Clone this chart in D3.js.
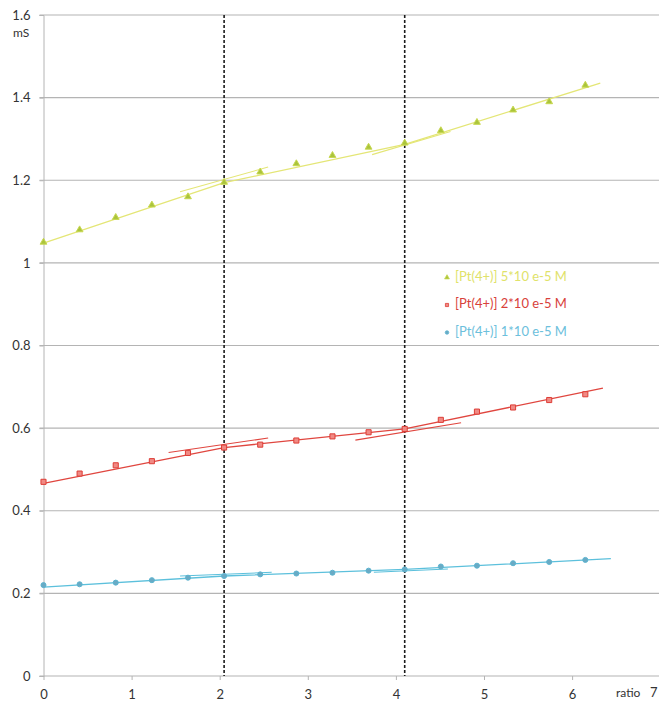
<!DOCTYPE html>
<html>
<head>
<meta charset="utf-8">
<script src="https://cdn.jsdelivr.net/npm/d3@7"></script>
<style>
  body { margin: 0; background: #fff; }
  text { font-family: Lato, "Open Sans", sans-serif; }
</style>
</head>
<body>
<div id="container"></div>
<script>
/* DATA */
const ratio = [0, 0.41, 0.82, 1.23, 1.64, 2.05, 2.46, 2.87, 3.28, 3.69, 4.1, 4.51, 4.92, 5.33, 5.74, 6.15];
const pt5 = [1.05, 1.08, 1.11, 1.14, 1.16, 1.195, 1.22, 1.24, 1.26, 1.28, 1.29, 1.32, 1.34, 1.37, 1.39, 1.43];
const pt2 = [0.47, 0.49, 0.51, 0.52, 0.54, 0.553, 0.56, 0.57, 0.58, 0.59, 0.598, 0.62, 0.64, 0.65, 0.668, 0.682];
const pt1 = [0.22, 0.222, 0.226, 0.232, 0.238, 0.242, 0.246, 0.248, 0.25, 0.255, 0.258, 0.265, 0.267, 0.273, 0.276, 0.281];
const yTicks = [0, 0.2, 0.4, 0.6, 0.8, 1, 1.2, 1.4, 1.6];
const xTicks = [0, 1, 2, 3, 4, 5, 6];
const breaks = [2.05, 4.1];   // dashed vertical lines
// piecewise trend lines: [x, y] vertices
const fit5 = [[0, 1.048], [2.05, 1.194], [4.1, 1.287], [6.32, 1.435]];
const fit2 = [[0, 0.466], [2.05, 0.553], [4.1, 0.598], [6.35, 0.697]];
const fit1 = [[0, 0.215], [2.05, 0.242], [4.1, 0.258], [6.44, 0.284]];
// short overlapping fit segments near the breaks: [x0, y0, x1, y1]
const seg5 = [[1.55, 1.172, 2.55, 1.232], [3.73, 1.262, 4.62, 1.318]];
const seg2 = [[1.42, 0.541, 2.55, 0.576], [3.54, 0.571, 4.74, 0.613]];
const seg1 = [[1.55, 0.242, 2.59, 0.251], [3.75, 0.251, 4.59, 0.259]];
const series = [
  {name: "[Pt(4+)] 5*10 e-5 M", values: pt5, fit: fit5, segs: seg5, line: "#e4e676", fill: "#aac43c", stroke: "#c8d850", text: "#e0e26a", shape: d3.symbolTriangle, size: 20},
  {name: "[Pt(4+)] 2*10 e-5 M", values: pt2, fit: fit2, segs: seg2, line: "#e0463f", fill: "#f08a84", stroke: "#dd3d36", text: "#d8413b", shape: d3.symbolSquare, size: 26},
  {name: "[Pt(4+)] 1*10 e-5 M", values: pt1, fit: fit1, segs: seg1, line: "#5cc0dc", fill: "#6aaac4", stroke: "#5cb4d0", text: "#6cc0dc", shape: d3.symbolCircle, size: 20}
];

/* CONSTANTS */
const width = 659, height = 701;
const marginLeft = 43.5, plotTop = 15, plotBottom = 676;

const svg = d3.select("#container").append("svg")
  .attr("width", width).attr("height", height);

/* SCALES */
const xScale = d3.scaleLinear().domain([0, 7]).range([marginLeft, marginLeft + 7 * 88.1]);
const yScale = d3.scaleLinear().domain([0, 1.6]).range([plotBottom, plotTop]);

// grid lines
svg.append("g")
  .selectAll("line")
  .data(yTicks)
  .join("line")
  .attr("x1", marginLeft - 4).attr("x2", width)
  .attr("y1", d => yScale(d)).attr("y2", d => yScale(d))
  .style("stroke", "#b4b4b4").style("stroke-width", 1.2);

// y axis
const yAxis = d3.axisLeft(yScale).tickValues(yTicks).tickSize(4).tickPadding(8)
  .tickFormat(d3.format(""));
const gy = svg.append("g").attr("transform", `translate(${marginLeft},0)`).call(yAxis);
gy.select(".domain").style("stroke", "#b4b4b4");
gy.selectAll(".tick line").style("stroke", "#b4b4b4");
gy.selectAll("text").style("font-size", "13px").style("fill", "#333").attr("dx", -1);

// x axis
const xAxis = d3.axisBottom(xScale).tickValues(xTicks).tickSize(4).tickPadding(10)
  .tickFormat(d3.format("d"));
const gx = svg.append("g").attr("transform", `translate(0,${plotBottom})`).call(xAxis);
gx.select(".domain").remove();
gx.selectAll(".tick line").style("stroke", "#b4b4b4");
gx.selectAll("text").style("font-size", "13px").style("fill", "#333");

// axis labels
svg.append("text").attr("x", 13).attr("y", 37).text("mS")
  .style("font-size", "12px").style("fill", "#333");
svg.append("text").attr("x", 616).attr("y", 697).text("ratio")
  .style("font-size", "12px").style("fill", "#333");
svg.append("text").attr("x", 650).attr("y", 697).text("7")
  .style("font-size", "13px").style("fill", "#333");

// dashed vertical lines
svg.append("g").selectAll("line")
  .data(breaks)
  .join("line")
  .attr("x1", d => xScale(d)).attr("x2", d => xScale(d))
  .attr("y1", plotTop).attr("y2", plotBottom)
  .style("stroke", "#1a1a1a").style("stroke-width", 1.6)
  .style("stroke-dasharray", "3,2");

/* MARKS */
const fitLine = d3.line().x(d => xScale(d[0])).y(d => yScale(d[1]));

series.forEach(s => {
  const g = svg.append("g");
  g.append("path")
    .attr("d", fitLine(s.fit))
    .style("fill", "none")
    .style("stroke", s.line).style("stroke-width", 1.3);

  g.selectAll("line")
    .data(s.segs)
    .join("line")
    .attr("x1", d => xScale(d[0])).attr("y1", d => yScale(d[1]))
    .attr("x2", d => xScale(d[2])).attr("y2", d => yScale(d[3]))
    .style("stroke", s.line).style("stroke-width", 1.1);

  g.selectAll(".pt")
    .data(s.values.map((v, i) => [ratio[i], v]))
    .join("path")
    .attr("class", "pt")
    .attr("transform", d => `translate(${xScale(d[0])},${yScale(d[1])})`)
    .attr("d", d3.symbol().type(s.shape).size(s.size))
    .style("fill", s.fill)
    .style("stroke", s.stroke)
    .style("stroke-width", 1);
});

// legend
const legendX = 447, legendY = 277.5, legendStep = 27.5;
series.forEach((s, i) => {
  svg.append("path")
    .attr("transform", `translate(${legendX},${legendY + i * legendStep})`)
    .attr("d", d3.symbol().type(s.shape).size(10))
    .style("fill", s.fill).style("stroke", s.stroke).style("stroke-width", 0.8);
  svg.append("text")
    .attr("x", legendX + 8)
    .attr("y", legendY + i * legendStep)
    .attr("dominant-baseline", "middle")
    .text(s.name)
    .style("font-size", "13px")
    .style("fill", s.text);
});
</script>
</body>
</html>
